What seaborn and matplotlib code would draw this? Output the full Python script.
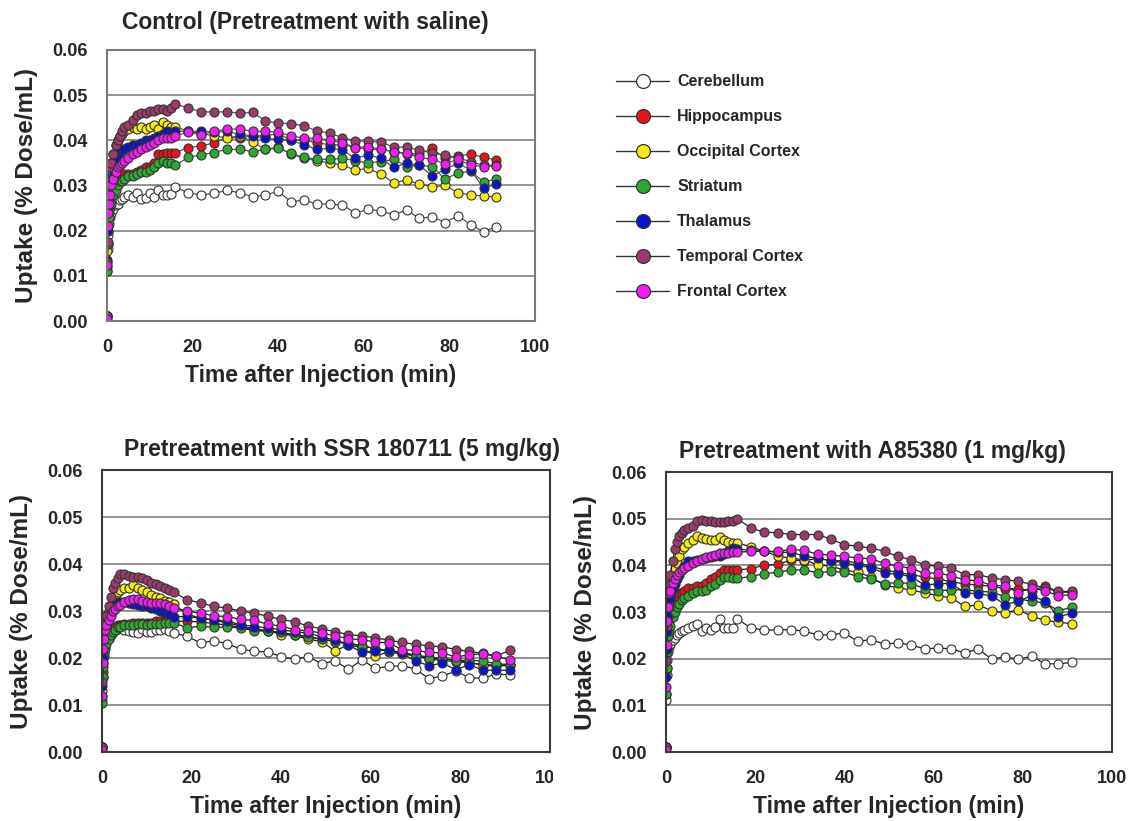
import seaborn as sns
import matplotlib.pyplot as plt
import pandas as pd
from matplotlib.lines import Line2D
from matplotlib.transforms import Bbox, TransformedBbox

# frame times (min)
time = [0, 0.1, 0.2, 0.3, 0.5, 0.75, 1, 1.5, 2, 2.5, 3, 3.5, 4,
        5, 6, 7, 8, 9, 10, 11, 12, 13, 14, 15, 16,
        19, 22, 25, 28, 31, 34, 37, 40, 43, 46, 49, 52, 55, 58, 61, 64, 67, 70, 73, 76, 79, 82, 85, 88, 91]

regions = ['Cerebellum', 'Hippocampus', 'Occipital Cortex', 'Striatum', 'Thalamus', 'Temporal Cortex', 'Frontal Cortex']
colors = ['#ffffff', '#e8141b', '#f5eb10', '#2ea82e', '#0a14c8', '#9c3a6e', '#f01cf0']

# control (saline)
cer_c = [0.001, 0.011, 0.016, 0.019, 0.0215, 0.023, 0.024, 0.0247, 0.0257, 0.026, 0.0268, 0.027, 0.0275,
         0.028, 0.0275, 0.0284, 0.027, 0.0272, 0.0283, 0.0275, 0.029, 0.0279, 0.028, 0.0281, 0.0296,
         0.0284, 0.0279, 0.0283, 0.0289, 0.0284, 0.0275, 0.0279, 0.0287, 0.0264, 0.0268, 0.0259, 0.0259, 0.0257,
         0.0239, 0.0247, 0.0244, 0.0235, 0.0246, 0.0227, 0.0231, 0.0218, 0.0233, 0.0213, 0.0198, 0.0209]
hip_c = [0.001, 0.012, 0.017, 0.021, 0.024, 0.026, 0.028, 0.029, 0.030, 0.031, 0.032, 0.032, 0.0325,
         0.0325, 0.0325, 0.033, 0.0335, 0.034, 0.034, 0.035, 0.037, 0.037, 0.0372, 0.0373, 0.0373,
         0.0384, 0.0388, 0.0394, 0.0407, 0.0405, 0.041, 0.041, 0.0415, 0.040, 0.040, 0.0395, 0.039, 0.039,
         0.0385, 0.038, 0.038, 0.0375, 0.037, 0.037, 0.0382, 0.036, 0.0365, 0.037, 0.0362, 0.0357]
occ_c = [0.001, 0.0155, 0.022, 0.027, 0.030, 0.033, 0.035, 0.037, 0.039, 0.040, 0.041, 0.0415, 0.042,
         0.0425, 0.043, 0.0425, 0.043, 0.0425, 0.043, 0.0435, 0.0425, 0.044, 0.0435, 0.043, 0.043,
         0.042, 0.0415, 0.041, 0.0405, 0.041, 0.0397, 0.038, 0.0385, 0.037, 0.036, 0.0355, 0.035, 0.0345,
         0.0334, 0.0338, 0.0325, 0.0306, 0.0312, 0.0303, 0.0297, 0.030, 0.0284, 0.0279, 0.0277, 0.0274]
str_c = [0.001, 0.011, 0.017, 0.020, 0.023, 0.025, 0.026, 0.028, 0.029, 0.030, 0.031, 0.031, 0.0315,
         0.032, 0.032, 0.0325, 0.033, 0.033, 0.0335, 0.034, 0.035, 0.0355, 0.035, 0.035, 0.0345,
         0.0362, 0.0368, 0.0373, 0.038, 0.038, 0.0375, 0.038, 0.0382, 0.0371, 0.0362, 0.0358, 0.0358, 0.036,
         0.0355, 0.035, 0.0353, 0.0358, 0.0342, 0.0345, 0.0342, 0.0314, 0.0328, 0.0331, 0.0308, 0.0314]
tha_c = [0.001, 0.0135, 0.020, 0.025, 0.028, 0.030, 0.032, 0.034, 0.035, 0.036, 0.0375, 0.038, 0.038,
         0.0385, 0.039, 0.039, 0.0395, 0.040, 0.040, 0.0405, 0.041, 0.0415, 0.042, 0.0415, 0.042,
         0.042, 0.042, 0.0418, 0.042, 0.0413, 0.041, 0.0405, 0.0402, 0.040, 0.039, 0.038, 0.0382, 0.0379,
         0.036, 0.0368, 0.036, 0.034, 0.0349, 0.0345, 0.0321, 0.0336, 0.0349, 0.0334, 0.0294, 0.0303]
tem_c = [0.001, 0.013, 0.0175, 0.027, 0.031, 0.034, 0.035, 0.037, 0.039, 0.040, 0.041, 0.042, 0.043,
         0.0435, 0.0445, 0.0455, 0.046, 0.046, 0.0465, 0.0465, 0.047, 0.047, 0.0465, 0.0472, 0.048,
         0.0472, 0.0463, 0.0463, 0.0463, 0.046, 0.0462, 0.0443, 0.0438, 0.0437, 0.0432, 0.0421, 0.0416, 0.0406,
         0.0399, 0.0398, 0.0396, 0.0385, 0.0385, 0.0378, 0.0372, 0.0367, 0.0362, 0.0352, 0.0345, 0.0345]
fro_c = [0.0005, 0.0125, 0.021, 0.024, 0.026, 0.028, 0.030, 0.0315, 0.033, 0.034, 0.0345, 0.035, 0.0355,
         0.036, 0.037, 0.0375, 0.038, 0.0385, 0.039, 0.0395, 0.040, 0.0405, 0.0405, 0.0405, 0.041,
         0.0418, 0.0412, 0.042, 0.0425, 0.0425, 0.042, 0.042, 0.0418, 0.041, 0.0405, 0.0405, 0.040, 0.0395,
         0.0384, 0.0386, 0.038, 0.0375, 0.0371, 0.0362, 0.0358, 0.0348, 0.0358, 0.0345, 0.0342, 0.0343]

# SSR180711 (5 mg/kg)
cer_s = [0.001, 0.011, 0.016, 0.019, 0.021, 0.0225, 0.0235, 0.0245, 0.025, 0.0255, 0.026, 0.0262, 0.0265,
         0.026, 0.0257, 0.0255, 0.0253, 0.0262, 0.0255, 0.0255, 0.026, 0.026, 0.0262, 0.0258, 0.0253,
         0.0246, 0.0232, 0.0237, 0.023, 0.0219, 0.0214, 0.0213, 0.0203, 0.0197, 0.0203, 0.0188, 0.0194, 0.0176,
         0.0196, 0.0178, 0.0182, 0.0184, 0.0176, 0.0156, 0.0162, 0.0172, 0.0158, 0.0157, 0.0166, 0.0164]
hip_s = [0.001, 0.012, 0.017, 0.020, 0.022, 0.0235, 0.024, 0.025, 0.0255, 0.026, 0.0265, 0.027, 0.027,
         0.0272, 0.0272, 0.0275, 0.0275, 0.0275, 0.0275, 0.0275, 0.0278, 0.0278, 0.0279, 0.028, 0.0278,
         0.0278, 0.0277, 0.0273, 0.027, 0.0265, 0.026, 0.0258, 0.0252, 0.025, 0.0245, 0.024, 0.0236, 0.0232,
         0.0226, 0.022, 0.0216, 0.0212, 0.0206, 0.0202, 0.0198, 0.0195, 0.019, 0.0186, 0.0185, 0.0185]
occ_s = [0.001, 0.013, 0.020, 0.025, 0.027, 0.028, 0.029, 0.030, 0.031, 0.032, 0.033, 0.034, 0.0345,
         0.035, 0.035, 0.0355, 0.035, 0.0345, 0.034, 0.0335, 0.033, 0.0328, 0.0322, 0.032, 0.0315,
         0.0293, 0.0285, 0.028, 0.0275, 0.0268, 0.0262, 0.0258, 0.025, 0.0248, 0.024, 0.0235, 0.0215, 0.0228,
         0.0222, 0.0204, 0.0213, 0.0208, 0.0205, 0.0198, 0.0195, 0.0192, 0.019, 0.0185, 0.0182, 0.0185]
str_s = [0.001, 0.0105, 0.016, 0.018, 0.0205, 0.022, 0.023, 0.024, 0.025, 0.0255, 0.026, 0.0265, 0.0265,
         0.027, 0.027, 0.027, 0.0272, 0.0272, 0.027, 0.0272, 0.0272, 0.0272, 0.0275, 0.0275, 0.0275,
         0.0264, 0.0268, 0.0265, 0.0266, 0.0264, 0.0258, 0.0257, 0.0255, 0.0249, 0.0245, 0.024, 0.0235, 0.023,
         0.0226, 0.022, 0.0215, 0.021, 0.0205, 0.0198, 0.020, 0.0194, 0.0196, 0.0193, 0.0188, 0.0186]
tha_s = [0.001, 0.014, 0.020, 0.024, 0.026, 0.027, 0.028, 0.029, 0.030, 0.031, 0.0315, 0.032, 0.032,
         0.032, 0.0317, 0.0315, 0.0313, 0.0311, 0.031, 0.0307, 0.0305, 0.0299, 0.0296, 0.0293, 0.0288,
         0.0288, 0.0285, 0.0281, 0.0278, 0.0271, 0.0267, 0.0264, 0.026, 0.0256, 0.0253, 0.0245, 0.0238, 0.0228,
         0.0212, 0.0215, 0.0218, 0.021, 0.0193, 0.0184, 0.0189, 0.0175, 0.0186, 0.0174, 0.0174, 0.0174]
tem_s = [0.001, 0.015, 0.0245, 0.028, 0.0285, 0.029, 0.029, 0.031, 0.033, 0.035, 0.036, 0.037, 0.0378,
         0.0378, 0.0375, 0.0372, 0.0372, 0.037, 0.0365, 0.036, 0.0357, 0.0354, 0.035, 0.0345, 0.034,
         0.0324, 0.0317, 0.031, 0.0306, 0.030, 0.0295, 0.0289, 0.0282, 0.0277, 0.0268, 0.0262, 0.0256, 0.025,
         0.0247, 0.0243, 0.0238, 0.0233, 0.0229, 0.0226, 0.0224, 0.0218, 0.0214, 0.021, 0.0204, 0.0216]
fro_s = [0.0005, 0.012, 0.019, 0.022, 0.024, 0.026, 0.027, 0.028, 0.029, 0.030, 0.0305, 0.031, 0.0313,
         0.032, 0.0324, 0.0325, 0.0325, 0.0322, 0.032, 0.0318, 0.0316, 0.0316, 0.0315, 0.031, 0.0306,
         0.030, 0.0295, 0.029, 0.0288, 0.0282, 0.028, 0.0272, 0.0268, 0.026, 0.0258, 0.0253, 0.0247, 0.0241,
         0.0239, 0.0234, 0.0232, 0.0218, 0.0216, 0.0212, 0.0211, 0.0202, 0.0207, 0.0209, 0.0204, 0.0196]

# A85380 (1 mg/kg)
cer_a = [0.001, 0.0112, 0.0165, 0.0198, 0.0215, 0.0226, 0.0232, 0.024, 0.0245, 0.0251, 0.0255, 0.026, 0.0262,
         0.0266, 0.027, 0.0275, 0.026, 0.0265, 0.0262, 0.0268, 0.0285, 0.0265, 0.0265, 0.0265, 0.0285,
         0.0266, 0.0261, 0.0262, 0.0262, 0.0259, 0.0251, 0.0251, 0.0255, 0.0237, 0.0241, 0.0231, 0.0234, 0.0229,
         0.0221, 0.0223, 0.0221, 0.0212, 0.0221, 0.0199, 0.0204, 0.0199, 0.0205, 0.0189, 0.0189, 0.0192]
hip_a = [0.001, 0.0125, 0.018, 0.022, 0.025, 0.028, 0.030, 0.032, 0.033, 0.0335, 0.034, 0.0341, 0.0345,
         0.0351, 0.0352, 0.0355, 0.0355, 0.0363, 0.037, 0.0375, 0.0384, 0.0391, 0.0391, 0.039, 0.039,
         0.0393, 0.040, 0.0402, 0.0411, 0.041, 0.0415, 0.041, 0.041, 0.0405, 0.0398, 0.039, 0.0385, 0.038,
         0.0375, 0.037, 0.0365, 0.036, 0.0358, 0.0355, 0.035, 0.035, 0.0345, 0.0356, 0.0343, 0.0342]
occ_a = [0.001, 0.0175, 0.025, 0.029, 0.032, 0.034, 0.036, 0.038, 0.0395, 0.0405, 0.042, 0.0434, 0.044,
         0.0448, 0.0455, 0.0462, 0.0459, 0.0457, 0.0455, 0.0455, 0.046, 0.0455, 0.045, 0.0448, 0.0448,
         0.044, 0.043, 0.042, 0.0415, 0.0412, 0.0401, 0.0398, 0.039, 0.0385, 0.0375, 0.0357, 0.0352, 0.0347,
         0.0341, 0.0335, 0.033, 0.0312, 0.0315, 0.0303, 0.0298, 0.0305, 0.0291, 0.0282, 0.0278, 0.0275]
str_a = [0.001, 0.0125, 0.018, 0.0215, 0.0248, 0.026, 0.027, 0.029, 0.030, 0.031, 0.0318, 0.0326, 0.033,
         0.0334, 0.034, 0.0344, 0.0346, 0.0348, 0.0355, 0.036, 0.0368, 0.0376, 0.0374, 0.0373, 0.0372,
         0.0376, 0.0382, 0.0385, 0.039, 0.039, 0.0384, 0.0387, 0.0385, 0.0376, 0.037, 0.0361, 0.0363, 0.0361,
         0.035, 0.0346, 0.0347, 0.0348, 0.0344, 0.0343, 0.0333, 0.0328, 0.0323, 0.0319, 0.0303, 0.031]
tha_a = [0.001, 0.016, 0.022, 0.026, 0.029, 0.031, 0.033, 0.035, 0.036, 0.037, 0.038, 0.0392, 0.0398,
         0.0409, 0.041, 0.0412, 0.0413, 0.0415, 0.0418, 0.042, 0.042, 0.0425, 0.043, 0.0437, 0.0435,
         0.0432, 0.043, 0.0428, 0.0428, 0.042, 0.0415, 0.041, 0.0405, 0.040, 0.0395, 0.0383, 0.0381, 0.0376,
         0.0357, 0.0361, 0.0361, 0.0341, 0.0339, 0.0335, 0.0316, 0.0323, 0.0335, 0.0323, 0.029, 0.0297]
tem_a = [0.001, 0.0195, 0.027, 0.031, 0.034, 0.036, 0.038, 0.041, 0.0434, 0.045, 0.0462, 0.047, 0.0476,
         0.048, 0.0485, 0.0494, 0.0498, 0.0496, 0.0494, 0.0492, 0.0492, 0.0492, 0.0494, 0.0496, 0.050,
         0.048, 0.0471, 0.047, 0.0466, 0.0466, 0.0466, 0.0456, 0.0444, 0.0441, 0.0437, 0.043, 0.0419, 0.0412,
         0.0401, 0.0398, 0.0394, 0.038, 0.038, 0.0373, 0.0369, 0.0366, 0.0359, 0.0351, 0.0344, 0.0344]
fro_a = [0.0005, 0.014, 0.023, 0.028, 0.031, 0.034, 0.0345, 0.0362, 0.037, 0.038, 0.0385, 0.039, 0.0395,
         0.0398, 0.0405, 0.041, 0.0414, 0.0418, 0.042, 0.0423, 0.0426, 0.0426, 0.0427, 0.0428, 0.0428,
         0.043, 0.043, 0.043, 0.0434, 0.0432, 0.0424, 0.0422, 0.0419, 0.0416, 0.0414, 0.0404, 0.0399, 0.0393,
         0.0383, 0.0384, 0.0377, 0.0369, 0.0367, 0.0357, 0.0356, 0.0341, 0.0352, 0.0345, 0.0335, 0.0337]

control = [cer_c, hip_c, occ_c, str_c, tha_c, tem_c, fro_c]
ssr = [cer_s, hip_s, occ_s, str_s, tha_s, tem_s, fro_s]
a85 = [cer_a, hip_a, occ_a, str_a, tha_a, tem_a, fro_a]


def long_df(series):
    rows = []
    for region, vals in zip(regions, series):
        rows.append(pd.DataFrame({'time': time, 'uptake': vals, 'region': region}))
    return pd.concat(rows, ignore_index=True)


sns.set_style('white')
plt.rcParams['font.family'] = ['Liberation Sans', 'DejaVu Sans']
plt.rcParams['font.weight'] = 'bold'

W, H = 1128, 821
fig = plt.figure(figsize=(W / 100, H / 100), dpi=100)


def px_axes(left, top, right, bottom):
    return fig.add_axes([left / W, 1 - bottom / H, (right - left) / W, (bottom - top) / H])


edge = '#333333'


def draw_panel(ax, df, title, tx, tpad, frame_col, line_col):
    for region, col in zip(regions, colors):
        sub = df[df['region'] == region]
        sns.lineplot(data=sub, x='time', y='uptake', ax=ax, color=line_col, lw=0.9,
                     marker='o', markersize=6.5, markerfacecolor=col, markeredgecolor=edge,
                     markeredgewidth=0.8, estimator=None, sort=False, legend=False)
    ax.set_xlim(0, 100)
    ax.set_ylim(0, 0.06)
    ax.set_xticks([0, 20, 40, 60, 80, 100], ['0', '20', '40', '60', '80', '100'])
    ax.set_yticks([0, 0.01, 0.02, 0.03, 0.04, 0.05, 0.06],
                  ['0.00', '0.01', '0.02', '0.03', '0.04', '0.05', '0.06'])
    ax.yaxis.grid(True, color='#8a8a8a', lw=1.3)
    ax.xaxis.grid(False)
    ax.set_axisbelow(True)
    for s in ax.spines.values():
        s.set_color(frame_col)
        s.set_linewidth(1.5)
    ax.tick_params(axis='x', direction='in', length=5, width=1, color='#777777', labelsize=13, pad=13)
    ax.tick_params(axis='y', length=0, labelsize=13, pad=14)
    ax.set_xlabel('Time after Injection (min)', fontsize=16.5, fontweight='bold', labelpad=6)
    ax.set_ylabel('Uptake (% Dose/mL)', fontsize=17.5, fontweight='bold', labelpad=10)
    ax.set_title(title, fontsize=16.5, fontweight='bold', x=tx, pad=tpad)


ax1 = px_axes(107, 50, 535, 321)
draw_panel(ax1, long_df(control), 'Control (Pretreatment with saline)', 0.463, 15, '#7a7a7a', '#555555')

ax2 = px_axes(102, 470, 550, 752)
draw_panel(ax2, long_df(ssr), 'Pretreatment with SSR 180711 (5 mg/kg)', 0.536, 10, '#3a3a3a', '#222222')

ax3 = px_axes(666, 472, 1112, 752)
draw_panel(ax3, long_df(a85), 'Pretreatment with A85380 (1 mg/kg)', 0.462, 10, '#3a3a3a', '#222222')

# the left-bottom panel is cut at its right edge in the original
clip = TransformedBbox(Bbox.from_extents(0, 0, 553 / W, 1), fig.transFigure)
for lbl in ax2.get_xticklabels():
    if lbl.get_text() == '100':
        lbl.set_clip_box(clip)
        lbl.set_clip_on(True)

handles = [Line2D([], [], color=edge, lw=1.0, marker='o', markersize=10,
                  markerfacecolor=c, markeredgecolor=edge, markeredgewidth=0.9) for c in colors]
fig.legend(handles, regions, loc='upper left', bbox_to_anchor=(602 / W, 1 - 60 / H),
           frameon=False, handlelength=3.3, handletextpad=0.5, labelspacing=1.25,
           prop={'size': 11.5, 'weight': 'bold'})

fig.savefig('out.png', dpi=100, facecolor='white')
